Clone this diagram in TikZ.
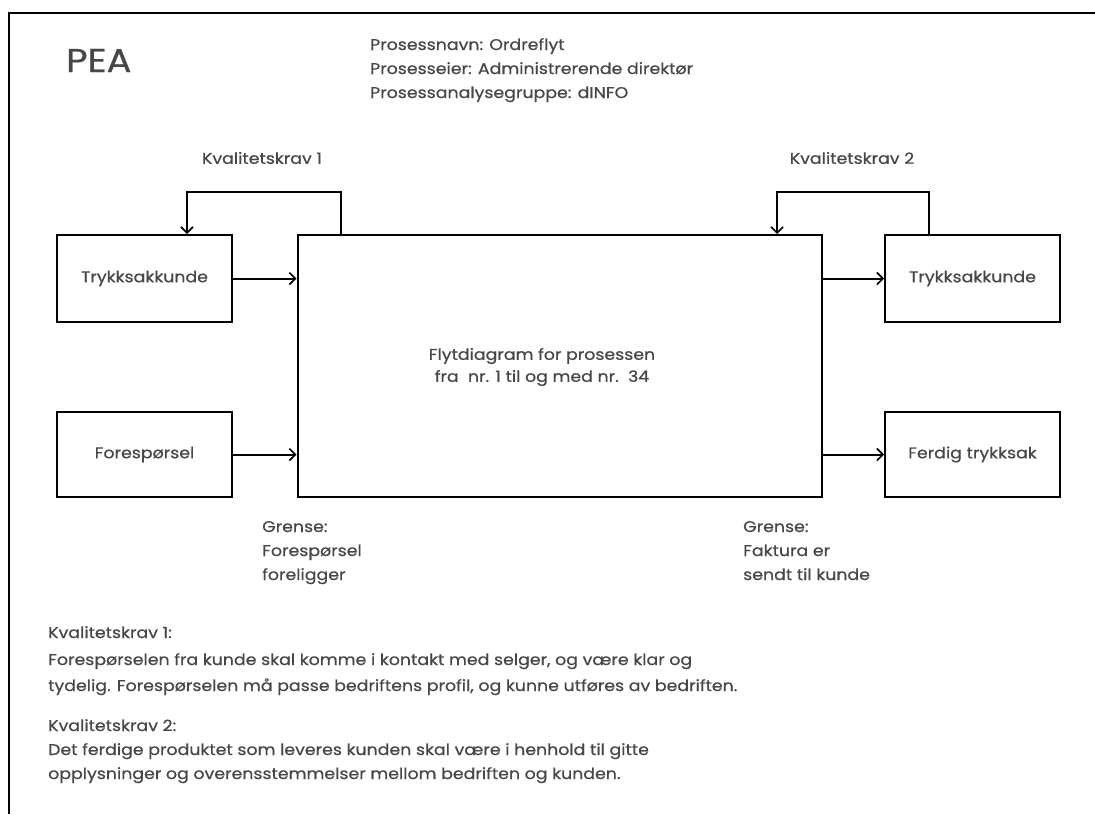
\documentclass[tikz,border=0pt]{standalone}
\usepackage{fontspec}
\setmainfont{Poppins}[FakeStretch=1.12, FakeBold=0.6]
\usetikzlibrary{arrows.meta}
\begin{document}
\begin{tikzpicture}[x=1pt,y=-1pt,
  every node/.style={text=black!72, inner sep=0pt},
  txt/.style={font=\fontsize{15.5}{24}\selectfont, anchor=base west},
  boxlbl/.style={font=\fontsize{15.5}{22}\selectfont},
  blk/.style={draw=black, line width=2pt, fill=none},
  flow/.style={draw=black, line width=2pt, -{Straight Barb[length=6pt,width=12pt,line width=1.6pt]}},
  frame/.style={draw=black, line width=1.3pt}]
\useasboundingbox (0,0) rectangle (1095,814);
\fill[white] (0,0) rectangle (1095,814);
% page frame
\draw[frame] (1095,13) -- (9,13) -- (9,814);

% header
\node[anchor=base west, font=\fontsize{33}{33}\selectfont] (title) at (66,72) {PEA};
\node[txt] (meta1) at (370,50) {Prosessnavn: Ordreflyt};
\node[txt] (meta2) at (370,74) {Prosesseier: Administrerende direktør};
\node[txt] (meta3) at (370,98) {Prosessanalysegruppe: dINFO};

% boxes
\node[blk, minimum width=175pt, minimum height=87pt, boxlbl] (inA) at (144.5,278.5) {Trykksakkunde};
\node[blk, minimum width=175pt, minimum height=85pt, boxlbl] (inB) at (144.5,454.5) {Forespørsel};
\node[blk, minimum width=524pt, minimum height=262pt] (proc) at (559.5,366) {};
\node[boxlbl, align=center] (proclbl) at (542,367) {Flytdiagram for prosessen\\fra\ \ nr. 1 til og med nr.\ \ 34};
\node[blk, minimum width=175pt, minimum height=87pt, boxlbl] (outA) at (972.5,278.5) {Trykksakkunde};
\node[blk, minimum width=175pt, minimum height=85pt, boxlbl] (outB) at (972.5,454.5) {Ferdig trykksak};

% flows
\draw[flow] (inA.east) -- (inA.east -| proc.west);
\draw[flow] (inB.east) -- (inB.east -| proc.west);
\draw[flow] (outA.west -| proc.east) -- (outA.west);
\draw[flow] (outB.west -| proc.east) -- (outB.west);

% quality feedback loops
\coordinate (k1a) at (341,192);
\coordinate (k1b) at (187,192);
\draw[flow] (k1a |- proc.north) -- (k1a) -- (k1b) -- (k1b |- inA.north);
\coordinate (k2a) at (929,192);
\coordinate (k2b) at (777,192);
\draw[flow] (k2a |- outA.north) -- (k2a) -- (k2b) -- (k2b |- proc.north);
\node[boxlbl] (q1) at (262,158) {Kvalitetskrav 1};
\node[boxlbl] (q2) at (852,158) {Kvalitetskrav 2};

% boundaries
\node[txt] (g1a) at (262,532) {Grense:};
\node[txt] (g1b) at (262,556) {Forespørsel};
\node[txt] (g1c) at (262,580) {foreligger};
\node[txt] (g2a) at (743,532) {Grense:};
\node[txt] (g2b) at (743,556) {Faktura er};
\node[txt] (g2c) at (743,580) {sendt til kunde};

% quality requirements text
\node[txt] (t1a) at (48,638) {Kvalitetskrav 1:};
\node[txt] (t1b) at (48,665) {Forespørselen fra kunde skal komme i kontakt med selger, og være klar og};
\node[txt] (t1c) at (48,691) {tydelig. Forespørselen må passe bedriftens profil, og kunne utføres av bedriften.};
\node[txt] (t2a) at (48,731) {Kvalitetskrav 2:};
\node[txt] (t2b) at (48,755) {Det ferdige produktet som leveres kunden skal være i henhold til gitte};
\node[txt] (t2c) at (48,779) {opplysninger og overensstemmelser mellom bedriften og kunden.};
\end{tikzpicture}
\end{document}
